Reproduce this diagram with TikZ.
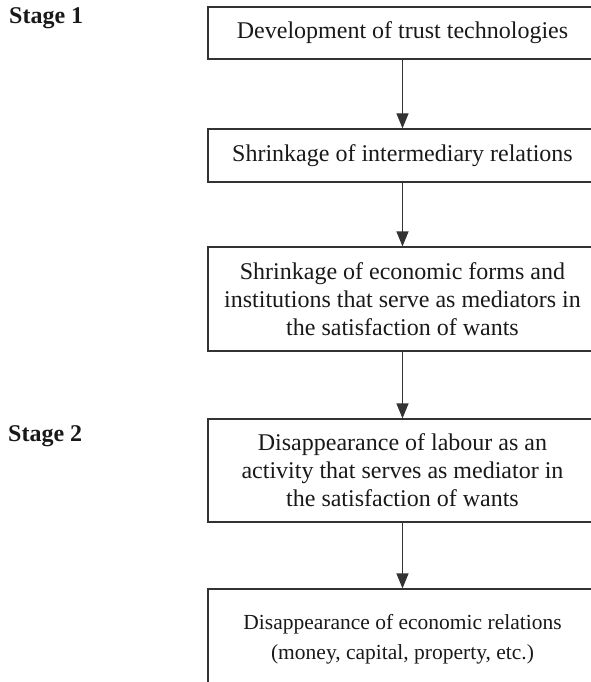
\documentclass[tikz,border=0pt]{standalone}
\usepackage{fontspec}
\setmainfont{Liberation Serif}
\usetikzlibrary{arrows.meta}

\tikzset{
  stagebox/.style={draw=black!80,line width=1.2pt,align=center,minimum width=389pt,
    inner sep=0pt,text=black!90,font=\fontsize{24}{28}\selectfont},
  stagelabel/.style={anchor=north west,inner sep=0pt,text=black!90,
    font=\bfseries\fontsize{24}{28}\selectfont},
  flow/.style={draw=black!80,line width=1.2pt,-{Triangle[width=12pt,length=15pt]}}
}

\begin{document}
\begin{tikzpicture}[x=1pt,y=-1pt]
  \useasboundingbox (0,0) rectangle (590,682);

  \node [stagelabel] (stageone) at (9,7) {Stage 1};
  \node [stagelabel] (stagetwo) at (8,425) {Stage 2};

  \node [stagebox,minimum height=52pt] (trust) at (402.5,33) {Development of trust technologies};
  \node [stagebox,minimum height=53pt] (intermed) at (402.5,155.5) {Shrinkage of intermediary relations};
  \node [stagebox,minimum height=104pt] (forms) at (402.5,299)
    {Shrinkage of economic forms and\\ institutions that serve as mediators in\\ the satisfaction of wants};
  \node [stagebox,minimum height=103pt] (labour) at (402.5,470.5)
    {Disappearance of labour as an\\ activity that serves as mediator in\\ the satisfaction of wants};
  \node [stagebox,minimum height=100pt,font=\fontsize{21.5}{30}\selectfont] (relations) at (402.5,639)
    {Disappearance of economic relations\\ (money, capital, property, etc.)};

  \draw [flow] (trust) -- (intermed);
  \draw [flow] (intermed) -- (forms);
  \draw [flow] (forms) -- (labour);
  \draw [flow] (labour) -- (relations);
\end{tikzpicture}
\end{document}
